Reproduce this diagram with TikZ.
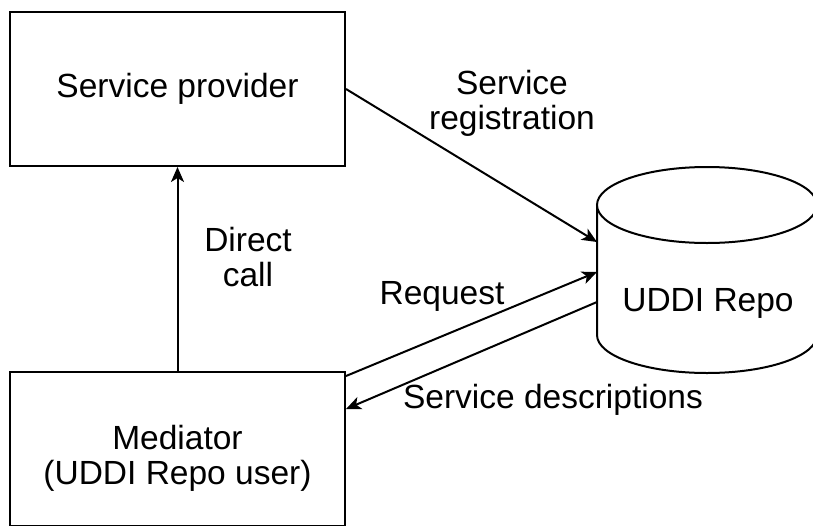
\documentclass[tikz,border=0pt]{standalone}
\usepackage{fontspec}
\setmainfont{Liberation Sans}
\usetikzlibrary{arrows.meta,calc}
\begin{document}
\begin{tikzpicture}[x=1pt,y=-1pt,
  line width=2pt,
  txt/.style={font=\fontsize{33.5}{35}\selectfont, align=center, inner sep=0pt},
  box/.style={draw, line width=2pt, minimum width=335pt, minimum height=154pt, inner sep=0pt, font=\fontsize{33.5}{35}\selectfont, align=center},
  arr/.style={-{Stealth[length=15pt,width=13pt,inset=4pt]}, line width=2pt}]
\clip (0,0) rectangle (813,525);
\fill[white] (0,0) rectangle (813,525);
% boxes
\node[box] (provider) at (177.5,89) {\raisebox{-2pt}{Service provider}};
\node[box, text depth=0pt] (mediator) at (177.5,449) {\raisebox{6pt}{\begin{tabular}{@{}c@{}}Mediator\\(UDDI Repo user)\end{tabular}}};
% cylinder
\draw (597,205) -- (597,335) arc[start angle=180,end angle=360,x radius=110,y radius=-38] -- (817,205);
\draw[fill=white] (707,205) ellipse[x radius=110, y radius=38];
\node[txt] (repo) at (708,303) {UDDI Repo};
\coordinate (repoA) at (597,242);
\coordinate (repoB) at (597,272);
\coordinate (repoC) at (597,302);
% connectors
\draw[arr] (mediator.north) -- (provider.south);
\draw[arr] ($(provider.north east)+(0,78)$) -- (repoA);
\draw[arr] ($(mediator.north east)+(0,5)$) -- (repoB);
\draw[arr] (repoC) -- ($(mediator.north east)+(0,38)$);
% labels
\node[txt] (lreg) at (512,103) {Service\\registration};
\node[txt] (lcall) at (248,257) {Direct\\call};
\node[txt] (lreq) at (442,296) {Request};
\node[txt] (ldesc) at (553,400) {Service descriptions};
\end{tikzpicture}
\end{document}
